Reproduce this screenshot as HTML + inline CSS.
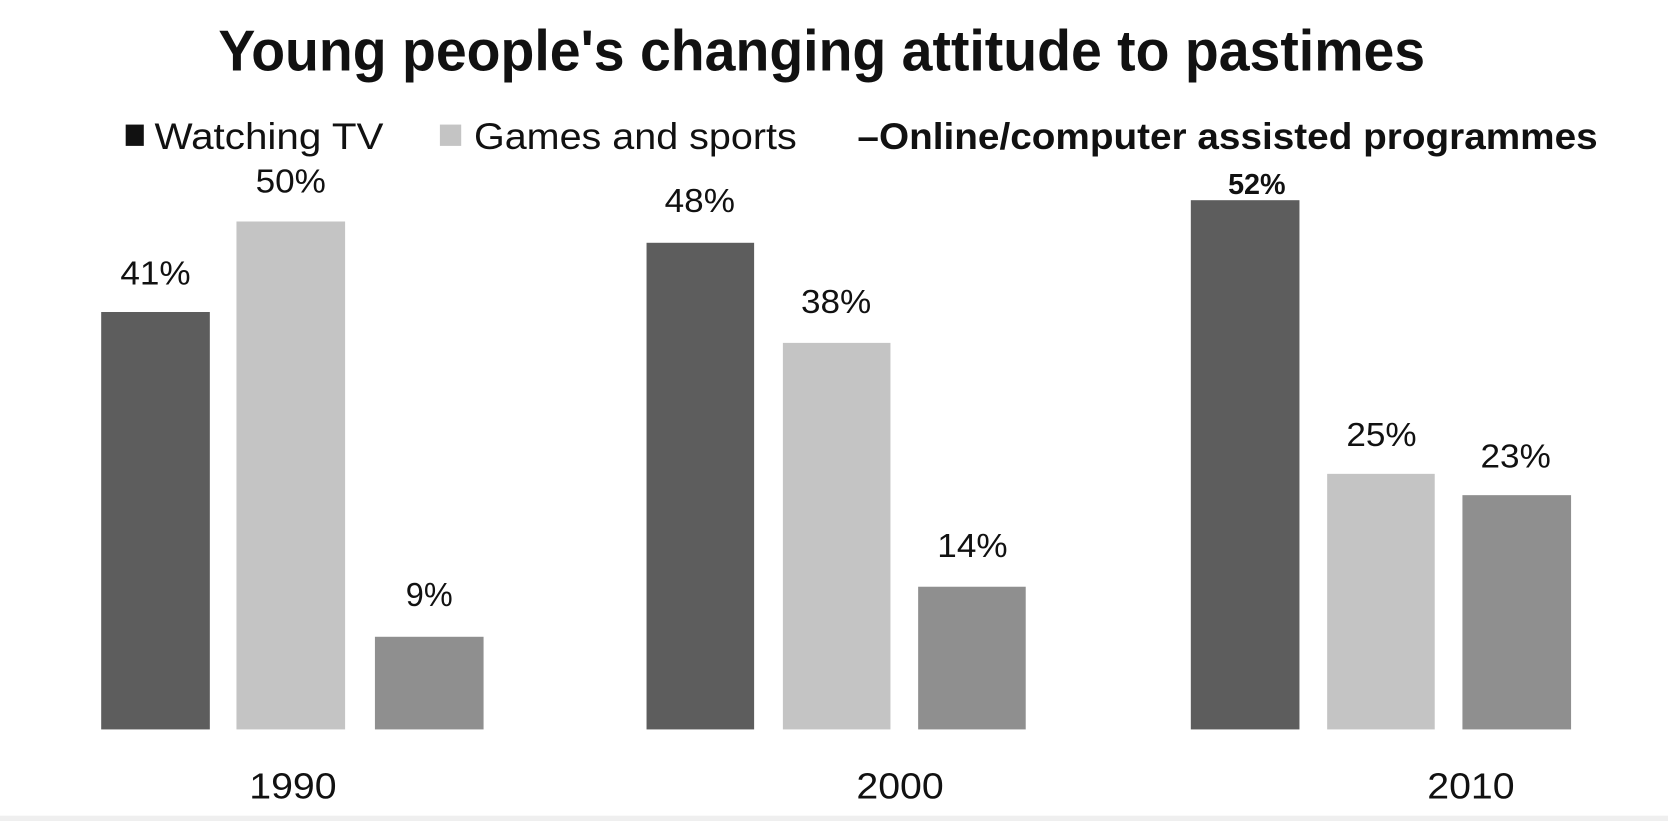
<!DOCTYPE html>
<html><head><style>html,body{margin:0;padding:0;background:#fff;overflow:hidden}</style></head>
<body>
<svg width="1668" height="821" viewBox="0 0 1566 771" preserveAspectRatio="none" xmlns="http://www.w3.org/2000/svg" font-family="Liberation Sans, sans-serif">
<rect width="1566" height="771" fill="#fff"/>
<rect y="766" width="1566" height="5" fill="#efefef"/>
<text x="205" y="66" font-size="54" font-weight="bold" fill="#111" textLength="1133" lengthAdjust="spacingAndGlyphs">Young people's changing attitude to pastimes</text>
<rect x="118" y="117" width="17" height="20" fill="#111"/>
<text x="145" y="140" font-size="35" fill="#111" textLength="215" lengthAdjust="spacingAndGlyphs">Watching TV</text>
<rect x="413" y="117" width="20" height="20" fill="#c4c4c4"/>
<text x="445" y="140" font-size="35" fill="#111" textLength="303" lengthAdjust="spacingAndGlyphs">Games and sports</text>
<text x="805" y="140" font-size="35" fill="#111" font-weight="bold" textLength="695" lengthAdjust="spacingAndGlyphs">–Online/computer assisted programmes</text>
<g>
<rect x="95" y="293" width="102" height="392" fill="#5d5d5d"/>
<rect x="222" y="208" width="102" height="477" fill="#c4c4c4"/>
<rect x="352" y="598" width="102" height="87" fill="#8f8f8f"/>
<rect x="607" y="228" width="101" height="457" fill="#5d5d5d"/>
<rect x="735" y="322" width="101" height="363" fill="#c4c4c4"/>
<rect x="862" y="551" width="101" height="134" fill="#8f8f8f"/>
<rect x="1118" y="188" width="102" height="497" fill="#5d5d5d"/>
<rect x="1246" y="445" width="101" height="240" fill="#c4c4c4"/>
<rect x="1373" y="465" width="102" height="220" fill="#8f8f8f"/>
</g>
<g font-size="31" fill="#111" text-anchor="middle">
<text x="146" y="267" textLength="66" lengthAdjust="spacingAndGlyphs">41%</text>
<text x="273" y="181" textLength="66" lengthAdjust="spacingAndGlyphs">50%</text>
<text x="403" y="569" textLength="44" lengthAdjust="spacingAndGlyphs">9%</text>
<text x="657" y="199" textLength="66" lengthAdjust="spacingAndGlyphs">48%</text>
<text x="785" y="294" textLength="66" lengthAdjust="spacingAndGlyphs">38%</text>
<text x="913" y="523" textLength="66" lengthAdjust="spacingAndGlyphs">14%</text>
<text x="1180" y="182" font-weight="bold" font-size="27">52%</text>
<text x="1297" y="419" textLength="66" lengthAdjust="spacingAndGlyphs">25%</text>
<text x="1423" y="439" textLength="66" lengthAdjust="spacingAndGlyphs">23%</text>
</g>
<g font-size="34" fill="#111" text-anchor="middle">
<text x="275" y="750" textLength="82" lengthAdjust="spacingAndGlyphs">1990</text>
<text x="845" y="750" textLength="82" lengthAdjust="spacingAndGlyphs">2000</text>
<text x="1381" y="750" textLength="82" lengthAdjust="spacingAndGlyphs">2010</text>
</g>
</svg>
</body></html>
